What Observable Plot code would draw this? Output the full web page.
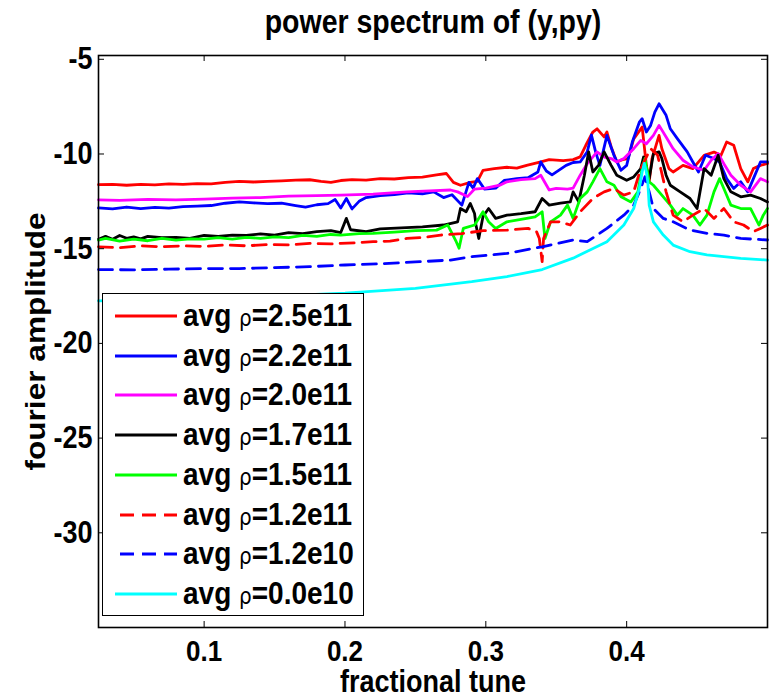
<!DOCTYPE html>
<html><head><meta charset="utf-8">
<script src="https://cdn.jsdelivr.net/npm/d3@7"></script>
<script src="https://cdn.jsdelivr.net/npm/@observablehq/plot@0.6"></script>
<style>
body{margin:0;background:#fff;}
#wrap{position:relative;width:769px;height:698px;font-family:"Liberation Sans",Arial,sans-serif;font-weight:bold;}
#wrap svg{font-family:"Liberation Sans",Arial,sans-serif;font-weight:bold;}
#legend{position:absolute;left:102px;top:293px;width:262px;height:323px;border:1.5px solid #000;background:#fff;box-sizing:border-box;}
.row{position:absolute;left:0;height:32px;width:258px;}
.row svg{position:absolute;left:12px;top:0;}
.row span.lab{position:absolute;left:80px;top:0;line-height:32px;font-size:28px;color:#000;white-space:nowrap;display:inline-block;transform:scaleY(1.15);transform-origin:0 50%;}
.row span.rho{font-weight:normal;font-size:20px;font-family:"DejaVu Sans",sans-serif;}
</style>
</head><body>
<div id="wrap"><div id="legend"></div></div>
<script>
const title = "power spectrum of (y,py)";
const xLabel = "fractional tune";
const yLabel = "fourier amplitude";
const xTicks = [0.1, 0.2, 0.3, 0.4];
const yTicks = [-30, -25, -20, -15, -10, -5];
const legendLabels = ["2.5e11", "2.2e11", "2.0e11", "1.7e11", "1.5e11", "1.2e11", "1.2e10", "0.0e10"];
const colors = ["#ff0000", "#0000ff", "#ff00ff", "#000000", "#00ff00", "#ff0000", "#0000ff", "#00ffff"];
const dashed = [false, false, false, false, false, true, true, false];

// series 1: avg rho = 2.5e11 (red solid)
const t1 = [0.025,0.035,0.045,0.055,0.065,0.075,0.085,0.095,0.105,0.115,0.125,0.135,0.145,0.155,0.165,0.175,0.183,0.19,0.197,0.205,0.215,0.225,0.235,0.245,0.255,0.265,0.272,0.277,0.282,0.289,0.294,0.298,0.306,0.315,0.322,0.329,0.339,0.345,0.355,0.362,0.367,0.371,0.376,0.379,0.384,0.386,0.389,0.393,0.397,0.401,0.405,0.411,0.414,0.416,0.418,0.423,0.425,0.43,0.433,0.44,0.447,0.455,0.462,0.467,0.471,0.476,0.481,0.486,0.49,0.495,0.5];
const v1 = [-11.62,-11.6,-11.65,-11.6,-11.63,-11.58,-11.6,-11.56,-11.58,-11.5,-11.45,-11.48,-11.45,-11.42,-11.38,-11.36,-11.45,-11.5,-11.4,-11.35,-11.38,-11.3,-11.32,-11.25,-11.22,-11.1,-11.03,-11.5,-11.65,-11.5,-11.45,-10.86,-10.77,-10.7,-10.75,-10.6,-10.42,-10.3,-10.35,-10.3,-10.15,-9.54,-8.84,-8.67,-9.1,-8.84,-9.63,-10.42,-10.3,-10.24,-9.2,-8.58,-10.6,-11.47,-10.24,-9.02,-9.72,-10.77,-10.95,-10.6,-10.77,-10.07,-9.9,-10.07,-9.37,-9.54,-10.77,-11.47,-10.77,-10.6,-10.5];

// series 2: 2.2e11 (blue solid)
const t2 = [0.025,0.035,0.045,0.055,0.065,0.075,0.085,0.095,0.105,0.115,0.125,0.135,0.145,0.155,0.165,0.172,0.18,0.188,0.193,0.197,0.201,0.205,0.21,0.215,0.225,0.235,0.245,0.255,0.263,0.27,0.276,0.283,0.288,0.291,0.294,0.299,0.307,0.313,0.322,0.33,0.337,0.339,0.343,0.347,0.352,0.357,0.362,0.367,0.372,0.375,0.378,0.381,0.386,0.391,0.396,0.4,0.404,0.409,0.411,0.414,0.417,0.42,0.423,0.428,0.431,0.436,0.443,0.447,0.451,0.456,0.462,0.466,0.471,0.476,0.481,0.486,0.49,0.495,0.5];
const v2 = [-12.85,-12.9,-12.8,-12.88,-12.82,-12.86,-12.78,-12.75,-12.72,-12.6,-12.53,-12.58,-12.62,-12.6,-12.72,-12.8,-12.68,-12.62,-12.4,-12.85,-12.35,-12.9,-12.5,-12.3,-12.2,-12.15,-12.05,-12.1,-12.0,-12.3,-12.15,-12.7,-11.5,-11.8,-11.3,-11.85,-11.8,-11.4,-11.3,-11.25,-10.95,-10.42,-10.9,-11.1,-10.85,-10.6,-10.45,-10.42,-9.89,-9.0,-9.9,-10.6,-9.02,-10.07,-10.86,-10.6,-9.37,-8.32,-8.14,-8.84,-8.49,-7.79,-7.35,-7.96,-8.67,-9.19,-9.89,-10.42,-10.95,-10.07,-10.24,-10.42,-11.3,-11.82,-11.47,-12.0,-11.3,-10.42,-10.42];

// series 3: 2.0e11 (magenta)
const t3 = [0.025,0.04,0.06,0.08,0.1,0.12,0.14,0.16,0.18,0.197,0.22,0.244,0.26,0.275,0.28,0.287,0.292,0.3,0.31,0.315,0.325,0.335,0.339,0.345,0.35,0.358,0.362,0.367,0.372,0.379,0.384,0.389,0.393,0.398,0.405,0.41,0.414,0.419,0.423,0.428,0.433,0.44,0.447,0.455,0.46,0.465,0.469,0.474,0.481,0.488,0.495,0.5];
const v3 = [-12.42,-12.45,-12.4,-12.42,-12.38,-12.33,-12.3,-12.22,-12.2,-12.17,-12.12,-12.0,-11.95,-11.9,-12.0,-12.25,-11.85,-11.8,-11.65,-11.47,-11.35,-11.3,-11.12,-11.9,-11.82,-11.85,-11.8,-11.12,-10.51,-9.89,-10.16,-10.24,-10.42,-10.24,-9.72,-9.28,-9.46,-9.02,-8.49,-9.1,-9.72,-10.33,-10.68,-10.86,-10.33,-9.98,-10.51,-11.12,-11.65,-12.0,-11.3,-11.47];

// series 4: 1.7e11 (black)
const t4 = [0.025,0.03,0.035,0.04,0.045,0.05,0.055,0.06,0.07,0.08,0.09,0.1,0.11,0.12,0.13,0.14,0.15,0.16,0.17,0.18,0.19,0.197,0.201,0.204,0.215,0.225,0.24,0.255,0.27,0.28,0.282,0.286,0.289,0.292,0.293,0.295,0.298,0.302,0.307,0.315,0.325,0.335,0.34,0.345,0.353,0.36,0.362,0.366,0.37,0.373,0.376,0.38,0.384,0.389,0.393,0.4,0.405,0.41,0.412,0.416,0.419,0.423,0.425,0.428,0.431,0.438,0.445,0.45,0.455,0.46,0.465,0.469,0.474,0.481,0.488,0.495,0.5];
const v4 = [-14.5,-14.35,-14.5,-14.3,-14.45,-14.38,-14.48,-14.35,-14.42,-14.4,-14.45,-14.3,-14.35,-14.28,-14.3,-14.22,-14.28,-14.15,-14.2,-14.1,-14.05,-14.15,-13.4,-14.0,-14.1,-13.95,-13.9,-13.85,-13.75,-13.58,-12.88,-13.05,-12.61,-13.14,-13.75,-14.46,-13.3,-12.88,-13.4,-13.23,-13.15,-13.05,-12.35,-12.7,-12.6,-12.53,-12.0,-12.53,-11.12,-9.89,-10.95,-10.6,-9.89,-10.6,-11.12,-11.39,-11.21,-10.77,-10.16,-11.3,-9.98,-9.89,-10.24,-11.12,-11.65,-12.0,-12.35,-12.88,-10.77,-11.12,-10.07,-11.3,-12.0,-12.26,-12.17,-12.35,-12.53];

// series 5: 1.5e11 (green)
const t5 = [0.025,0.03,0.04,0.05,0.06,0.07,0.08,0.09,0.1,0.11,0.12,0.13,0.14,0.15,0.16,0.17,0.18,0.19,0.197,0.21,0.22,0.235,0.25,0.265,0.273,0.279,0.281,0.284,0.292,0.298,0.302,0.307,0.315,0.325,0.335,0.34,0.342,0.346,0.353,0.358,0.362,0.367,0.372,0.376,0.381,0.386,0.391,0.396,0.403,0.408,0.411,0.413,0.416,0.419,0.423,0.431,0.436,0.44,0.447,0.452,0.457,0.462,0.466,0.469,0.474,0.481,0.488,0.494,0.497,0.5];
const v5 = [-14.55,-14.45,-14.6,-14.5,-14.58,-14.45,-14.55,-14.48,-14.5,-14.42,-14.5,-14.4,-14.45,-14.38,-14.42,-14.3,-14.35,-14.25,-14.28,-14.2,-14.19,-14.12,-14.05,-14.02,-13.75,-14.63,-14.98,-13.93,-13.75,-13.05,-13.58,-13.93,-13.58,-13.45,-13.32,-13.05,-14.46,-13.58,-13.23,-12.7,-13.4,-12.35,-12.0,-11.47,-10.77,-11.47,-11.65,-12.26,-12.53,-12.0,-10.77,-10.24,-11.47,-11.65,-12.0,-12.7,-13.23,-12.88,-13.23,-13.75,-13.23,-12.0,-11.3,-11.82,-12.7,-12.88,-12.88,-13.75,-13.23,-12.88];

// series 6: 1.2e11 (red dashed)
const t6 = [0.025,0.04,0.055,0.07,0.085,0.1,0.115,0.13,0.145,0.16,0.175,0.19,0.197,0.21,0.22,0.232,0.244,0.256,0.268,0.283,0.298,0.315,0.33,0.336,0.338,0.34,0.341,0.346,0.353,0.36,0.367,0.376,0.384,0.391,0.398,0.405,0.41,0.417,0.422,0.428,0.433,0.44,0.447,0.455,0.462,0.469,0.476,0.483,0.49,0.495,0.5];
const v6 = [-14.9,-14.95,-14.85,-14.9,-14.85,-14.88,-14.8,-14.85,-14.78,-14.8,-14.72,-14.75,-14.72,-14.68,-14.63,-14.6,-14.46,-14.4,-14.28,-14.2,-14.05,-14.02,-13.93,-14.1,-14.46,-15.68,-14.46,-13.58,-13.58,-13.75,-13.05,-12.35,-12.0,-11.82,-12.17,-12.0,-10.77,-9.72,-10.07,-12.0,-13.23,-13.58,-13.23,-12.88,-13.4,-12.88,-13.58,-13.75,-14.1,-13.93,-13.75];

// series 7: 1.2e10 (blue dashed)
const t7 = [0.025,0.05,0.075,0.1,0.125,0.15,0.175,0.2,0.225,0.25,0.275,0.29,0.315,0.34,0.362,0.372,0.386,0.398,0.405,0.41,0.413,0.416,0.419,0.426,0.433,0.445,0.457,0.469,0.481,0.5];
const v7 = [-16.1,-16.12,-16.08,-16.05,-16.05,-16.0,-15.95,-15.86,-15.8,-15.7,-15.6,-15.42,-15.25,-14.9,-14.54,-14.63,-13.93,-13.23,-12.7,-11.82,-11.2,-12.0,-12.88,-13.4,-13.58,-14.02,-14.19,-14.28,-14.46,-14.54];

// series 8: 0.0e10 (cyan)
const t8 = [0.025,0.05,0.1,0.15,0.2,0.25,0.29,0.315,0.34,0.362,0.386,0.398,0.405,0.409,0.411,0.4125,0.414,0.415,0.416,0.419,0.426,0.433,0.445,0.457,0.481,0.5];
const v8 = [-17.75,-17.72,-17.62,-17.5,-17.35,-17.1,-16.74,-16.47,-16.1,-15.5,-14.63,-13.75,-12.88,-11.82,-10.95,-10.5,-10.95,-11.47,-12.7,-13.58,-14.28,-14.81,-15.16,-15.33,-15.51,-15.6];

const tuneArrays = [t1, t2, t3, t4, t5, t6, t7, t8];
const ampArrays = [v1, v2, v3, v4, v5, v6, v7, v8];

const series = tuneArrays.map((ts, i) => ts.map((t, j) => ({t, v: ampArrays[i][j], k: i})));

const W = 769, H = 698, mL = 98, mR = 2, mT = 55, mB = 71;
const plotW = W - mL - mR, plotH = H - mT - mB, tickLen = 6;
const stretch = 1.15;

const marks = [];
series.forEach((rows, i) => {
  marks.push(Plot.line(rows, {
    x: "t", y: "v", stroke: colors[i], strokeWidth: 2.8,
    strokeDasharray: dashed[i] ? "14,8" : null, strokeLinejoin: "round"
  }));
});
marks.push(
  Plot.tickY(yTicks, {y: d => d, insetRight: plotW - tickLen, stroke: "#000"}),
  Plot.tickY(yTicks, {y: d => d, insetLeft: plotW - tickLen, stroke: "#000"}),
  Plot.tickX(xTicks, {x: d => d, insetTop: plotH - tickLen, stroke: "#000"}),
  Plot.tickX(xTicks, {x: d => d, insetBottom: plotH - tickLen, stroke: "#000"}),
  Plot.frame({stroke: "#000", strokeWidth: 1.6}),
  Plot.axisY(yTicks, {tickSize: 0, tickPadding: 6, tickFormat: d => String(d), fontSize: 27, fontWeight: "bold", label: null}),
  Plot.axisX(xTicks, {tickSize: 0, tickPadding: 12, tickFormat: d => d.toFixed(1), fontSize: 26, fontWeight: "bold", label: null}),
  Plot.text([title], {text: d => d, frameAnchor: "top", lineAnchor: "middle", dy: -33, fontSize: 28.5, fontWeight: "bold"}),
  Plot.text([xLabel], {text: d => d, frameAnchor: "bottom", lineAnchor: "middle", dy: 55, fontSize: 27, fontWeight: "bold"}),
  Plot.text([yLabel], {text: d => d, frameAnchor: "left", textAnchor: "middle", lineAnchor: "middle", dx: -62, rotate: -90, fontSize: 27.5, fontWeight: "bold"})
);

const chart = Plot.plot({
  width: W, height: H,
  marginLeft: mL, marginRight: mR, marginTop: mT, marginBottom: mB,
  x: {domain: [0.025, 0.5]},
  y: {domain: [-35, -4.8]},
  style: {background: "#fff", color: "#000", overflow: "visible"},
  marks
});

// stretch text vertically on screen (the reference glyphs are taller than wide)
d3.select(chart).selectAll("text").each(function() {
  const el = d3.select(this);
  const tr = el.attr("transform") || "";
  const rotated = /rotate\(\s*-?90/.test(tr);
  const s = rotated ? `scale(${stretch},1)` : `scale(1,${stretch})`;
  if (tr) {
    el.attr("transform", tr + " " + s);
  } else {
    const x = +el.attr("x") || 0, y = +el.attr("y") || 0;
    el.attr("transform", `translate(${x},${y}) ${s} translate(${-x},${-y})`);
  }
});

const wrap = document.getElementById("wrap");
wrap.insertBefore(chart, wrap.firstChild);

// legend
const legend = document.getElementById("legend");
legendLabels.forEach((lab, i) => {
  const row = document.createElement("div");
  row.className = "row";
  row.style.top = (6 + i * 39.7) + "px";
  const sw = d3.create("svg").attr("width", 64).attr("height", 32);
  sw.append("line").attr("x1", dashed[i] ? 5 : 0).attr("x2", 62).attr("y1", 16).attr("y2", 16)
    .attr("stroke", colors[i]).attr("stroke-width", 2.8)
    .attr("stroke-dasharray", dashed[i] ? "14,8" : null);
  row.appendChild(sw.node());
  const sp = document.createElement("span");
  sp.className = "lab";
  sp.innerHTML = 'avg <span class="rho">ρ</span>=' + lab;
  row.appendChild(sp);
  legend.appendChild(row);
});
</script>
</body></html>
